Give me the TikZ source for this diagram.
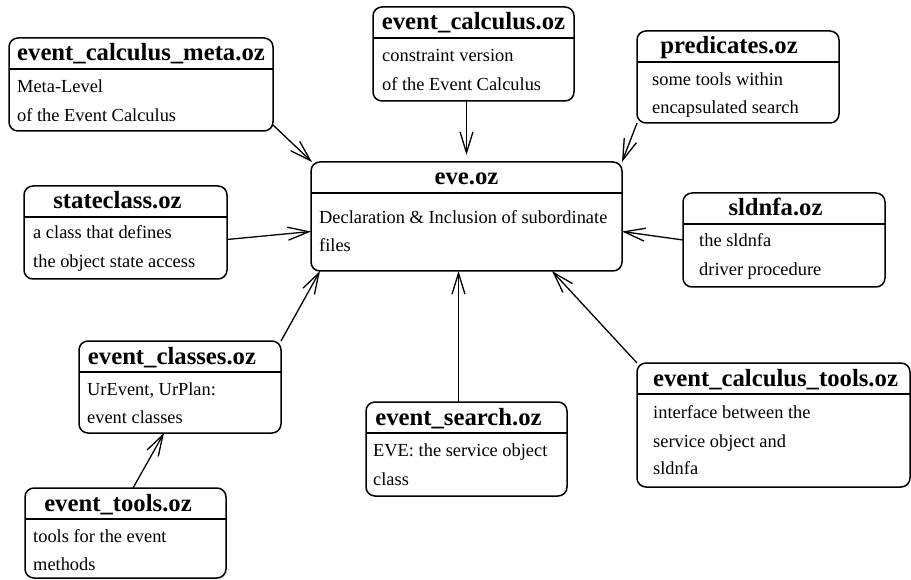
\documentclass[tikz,border=0pt]{standalone}
\usepackage{fontspec}
\setmainfont{Liberation Serif}
\usetikzlibrary{arrows.meta,calc}
\tikzset{
  ubox/.style={draw, line width=1.5pt, rounded corners=9pt, inner sep=0pt, outer sep=0pt},
  hdrline/.style={line width=1.2pt},
  hdr/.style={inner sep=0pt, font=\fontsize{24.7}{28}\selectfont\bfseries},
  bodytxt/.style={inner sep=0pt, font=\fontsize{18.4}{22}\selectfont},
  dep/.style={line width=1.3pt, -{Straight Barb[length=21pt,width=13pt,line width=1.3pt]}}
}
\newcommand\ubox[7]{%
  \node[ubox, minimum width={#4pt-#2pt}, minimum height={#5pt-#3pt}] (#1) at ({(#2+#4)/2},{(#3+#5)/2}) {};
  \draw[hdrline] ($(#1.north west)+(0,31)$) -- ($(#1.north east)+(0,31)$);
  \node[hdr, anchor=base] (#1-h) at (#6,#3+23) {#7};
}
\newcommand\bline[4]{% name, x, y, text
  \node[bodytxt, anchor=base west] (#1) at (#2,#3) {#4};
}
\begin{document}
\begin{tikzpicture}[x=1pt,y=-1pt]
\useasboundingbox (0,0) rectangle (911,580);
% boxes
\ubox{meta}{9}{38}{273}{131}{141}{event\_calculus\_meta.oz}
\bline{meta-b1}{17}{93}{Meta-Level}
\bline{meta-b2}{17}{122}{of the Event Calculus}

\ubox{ec}{373}{7}{574}{101}{473.5}{event\_calculus.oz}
\bline{ec-b1}{382}{62}{constraint version}
\bline{ec-b2}{382}{91}{of the Event Calculus}

\ubox{pred}{637}{31}{839}{123}{729}{predicates.oz}
\bline{pred-b1}{652}{86}{some tools within}
\bline{pred-b2}{652}{114}{encapsulated search}

\ubox{state}{24}{186}{227}{279}{117.5}{stateclass.oz}
\bline{state-b1}{33}{239}{a class that defines}
\bline{state-b2}{33}{268}{the object state access}

\ubox{eve}{311}{162}{622}{271}{466.5}{eve.oz}
\bline{eve-b1}{319}{224}{Declaration \& Inclusion of subordinate}
\bline{eve-b2}{319}{252}{files}

\ubox{sldnfa}{683}{193}{885}{287}{775.5}{sldnfa.oz}
\bline{sldnfa-b1}{699}{247}{the sldnfa}
\bline{sldnfa-b2}{699}{276}{driver procedure}

\ubox{classes}{79}{341}{281}{433}{172}{event\_classes.oz}
\bline{classes-b1}{87}{395}{UrEvent, UrPlan:}
\bline{classes-b2}{87}{423}{event classes}

\ubox{tools}{25}{488}{226}{578}{118}{event\_tools.oz}
\bline{tools-b1}{33}{542}{tools for the event}
\bline{tools-b2}{33}{570}{methods}

\ubox{search}{366}{402}{567}{496}{458.5}{event\_search.oz}
\bline{search-b1}{373}{456}{EVE: the service object}
\bline{search-b2}{373}{485}{class}

\ubox{ectools}{637}{363}{910}{487}{775.5}{event\_calculus\_tools.oz}
\bline{ectools-b1}{653}{418}{interface between the}
\bline{ectools-b2}{653}{447}{service object and}
\bline{ectools-b3}{653}{474}{sldnfa}

% connectors
\draw[dep] ($(meta.south east)+(0,-6)$) -- ($(eve.north west)+(1,0)$);
\draw[dep, shorten >=7pt] (ec.south -| eve.north) -- (eve.north);
\draw[dep] (pred.south west) -- (eve.north east);
\draw[dep] ($(state.east)+(0,7)$) -- ($(eve.west)+(0,15)$);
\draw[dep] (sldnfa.west) -- ($(eve.east)+(0,15)$);
\draw[dep] (classes.north east) -- ($(eve.south west)+(9,0)$);
\draw[dep] ($(search.north)+(-8,0)$) -- ($(eve.south)+(-8,0)$);
\draw[dep] (ectools.north west) -- ($(eve.south east)+(-70,0)$);
\draw[dep] ($(tools.north)+(7.5,0)$) -- ($(classes.south)+(-16,0)$);
\end{tikzpicture}
\end{document}
